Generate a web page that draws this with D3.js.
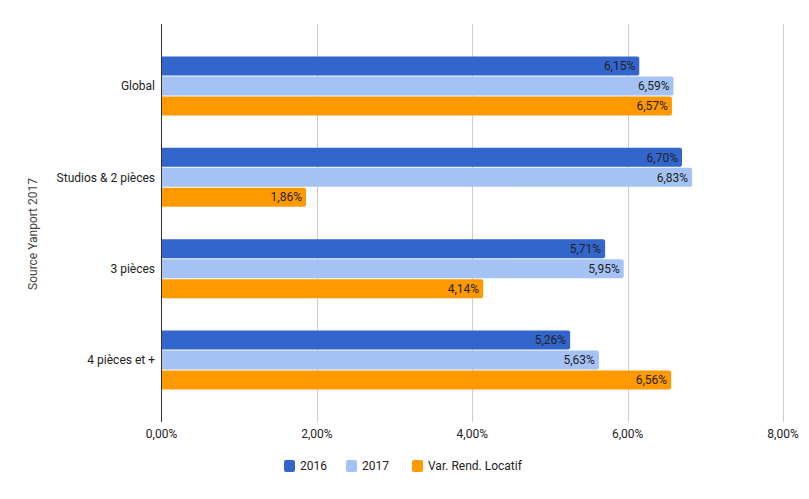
<!DOCTYPE html>
<html><head><meta charset="utf-8">
<script src="https://cdn.jsdelivr.net/npm/d3@7"></script>
<style>body{margin:0;background:#fff;} svg{display:block;font-family:Roboto,Arial,sans-serif;}</style>
</head><body>
<script>
const categories = ["Global", "Studios & 2 pièces", "3 pièces", "4 pièces et +"];
const seriesNames = ["2016", "2017", "Var. Rend. Locatif"];
const values2016 = [6.15, 6.70, 5.71, 5.26];
const values2017 = [6.59, 6.83, 5.95, 5.63];
const valuesVar = [6.57, 1.86, 4.14, 6.56];
const xTicks = [0, 2, 4, 6, 8];
const colors = ["#3366cc", "#a4c2f4", "#ff9900"];
const yTitle = "Source Yanport 2017";

const W = 809, H = 499;
const m = {left: 161.5, right: 26, top: 24, bottom: 77};
const svg = d3.select("body").append("svg").attr("width", W).attr("height", H);
const x = d3.scaleLinear().domain([0, 8]).range([m.left, 783]);
const y = d3.scaleBand().domain(categories).range([m.top, H - m.bottom]).padding(0.355);
const yi = d3.scaleBand().domain(seriesNames).range([0, y.bandwidth()]).paddingInner(0.05);
const fmt = v => d3.format(".2f")(v).replace(".", ",") + "%";

// gridlines
svg.append("g").selectAll("line").data(xTicks.filter(d => d > 0)).join("line")
  .attr("x1", d => Math.round(x(d)) + 0.5).attr("x2", d => Math.round(x(d)) + 0.5)
  .attr("y1", m.top).attr("y2", H - m.bottom).attr("stroke", "#cccccc");

const data = categories.map((c, i) => ({cat: c, vals: [values2016[i], values2017[i], valuesVar[i]]}));
const g = svg.append("g").selectAll("g").data(data).join("g")
  .attr("transform", d => `translate(0,${y(d.cat)})`);
const bars = g.selectAll("g").data(d => d.vals.map((v, j) => ({s: seriesNames[j], v, j}))).join("g");
bars.append("path")
  .attr("fill", d => colors[d.j])
  .attr("d", d => {
    const x0 = x(0), x1 = x(d.v), y0 = yi(d.s), h = yi.bandwidth(), r = 2;
    return `M${x0},${y0}H${x1 - r}Q${x1},${y0} ${x1},${y0 + r}V${y0 + h - r}Q${x1},${y0 + h} ${x1 - r},${y0 + h}H${x0}Z`;
  });
bars.append("text")
  .attr("x", d => x(d.v) - 4).attr("y", d => yi(d.s) + yi.bandwidth() / 2)
  .attr("dy", "0.35em").attr("text-anchor", "end")
  .attr("font-size", 12).attr("fill", "#222")
  .text(d => fmt(d.v));

// axis line
svg.append("line").attr("x1", m.left).attr("x2", m.left).attr("y1", m.top).attr("y2", H - m.bottom)
  .attr("stroke", "#333").attr("stroke-width", 1);

// category labels
svg.append("g").selectAll("text").data(categories).join("text")
  .attr("x", 155).attr("y", d => y(d) + y.bandwidth() / 2).attr("dy", "0.35em")
  .attr("text-anchor", "end").attr("font-size", 12).attr("fill", "#222").text(d => d);

// x tick labels
svg.append("g").selectAll("text").data(xTicks).join("text")
  .attr("x", d => x(d)).attr("y", 434).attr("dy", "0.35em")
  .attr("text-anchor", "middle").attr("font-size", 12).attr("fill", "#222").text(d => fmt(d));

// y title
svg.append("text").attr("transform", "translate(33,234) rotate(-90)")
  .attr("text-anchor", "middle").attr("dy", "0.35em").attr("font-size", 12).attr("fill", "#444").text(yTitle);

// legend
const legX = [284, 346, 412];
const leg = svg.append("g").selectAll("g").data(seriesNames).join("g")
  .attr("transform", (d, i) => `translate(${legX[i]},466)`);
leg.append("rect").attr("x", 0).attr("y", -6).attr("width", 11).attr("height", 12).attr("rx", 2)
  .attr("fill", (d, i) => colors[i]);
leg.append("text").attr("x", 16).attr("dy", "0.35em").attr("font-size", 12).attr("fill", "#222").text(d => d);
</script>
</body></html>
